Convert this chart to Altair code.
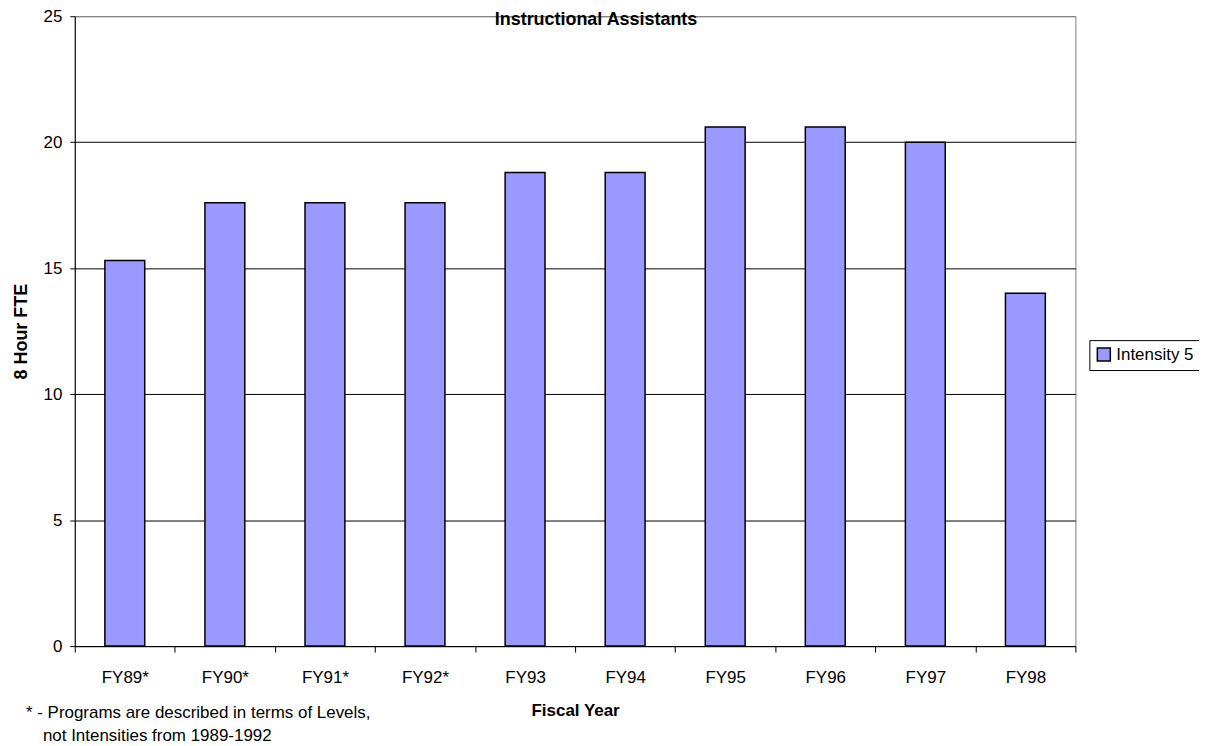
import altair as alt
import pandas as pd

years = ["FY89*", "FY90*", "FY91*", "FY92*", "FY93", "FY94", "FY95", "FY96", "FY97", "FY98"]
values = [15.3, 17.6, 17.6, 17.6, 18.8, 18.8, 20.6, 20.6, 20.0, 14.0]
series = ["Intensity 5"] * len(years)
y_ticks = [0, 5, 10, 15, 20, 25]
title_text = ["Instructional Assistants"]
footnote_1 = ["* - Programs are described in terms of Levels,"]
footnote_2 = ["not Intensities from 1989-1992"]

FONT = "Liberation Sans"

df = pd.DataFrame({"year": years, "fte": values, "series": series})

bars = alt.Chart(df).mark_bar(size=40, stroke="black", strokeWidth=1.5).encode(
    x=alt.X(
        "year:N", sort=years, title="Fiscal Year",
        scale=alt.Scale(paddingInner=0, paddingOuter=0),
        axis=alt.Axis(
            labelAngle=0, tickBand="extent", tickSize=6, labelPadding=31,
            labelBaseline="alphabetic", labelFontSize=17, labelFont=FONT, labelColor="black",
            titleFontSize=17, titleFontWeight="bold", titleFont=FONT, titleColor="black",
            titleY=70, titleBaseline="alphabetic",
            domainColor="black", tickColor="black", grid=False,
        ),
    ),
    y=alt.Y(
        "fte:Q", title="8 Hour FTE",
        scale=alt.Scale(domain=[0, 25], nice=False),
        axis=alt.Axis(
            values=y_ticks, tickSize=5, labelPadding=8,
            labelFontSize=17, labelFont=FONT, labelColor="black",
            domainColor="black", tickColor="black",
            grid=True, gridWidth=1,
            gridColor={"condition": {"test": "datum.value == 25", "value": "#808080"}, "value": "black"},
            titleFontSize=18, titleFontWeight="bold", titleFont=FONT, titleColor="black",
            titleX=-48, titleY=316, titleBaseline="alphabetic", titleAlign="center",
        ),
    ),
    color=alt.Color(
        "series:N",
        scale=alt.Scale(domain=["Intensity 5"], range=["#9999FF"]),
        legend=alt.Legend(
            title=None, orient="none", legendX=1018, legendY=325,
            symbolType="square", symbolSize=169, symbolStrokeColor="black",
            symbolStrokeWidth=1.5, symbolOpacity=1,
            labelFontSize=17, labelFont=FONT, labelColor="black", labelOffset=4,
            strokeColor="black", fillColor="white", padding=6,
        ),
    ),
)

title_layer = alt.Chart(pd.DataFrame({"t": title_text})).mark_text(
    align="center", baseline="alphabetic", fontSize=18, fontWeight="bold", font=FONT, color="black"
).encode(x=alt.value(523), y=alt.value(9), text="t:N")

foot1 = alt.Chart(pd.DataFrame({"t": footnote_1})).mark_text(
    align="left", baseline="alphabetic", fontSize=17, font=FONT, color="black"
).encode(x=alt.value(-49), y=alt.value(704), text="t:N")

foot2 = alt.Chart(pd.DataFrame({"t": footnote_2})).mark_text(
    align="left", baseline="alphabetic", fontSize=17, font=FONT, color="black"
).encode(x=alt.value(-32), y=alt.value(727), text="t:N")

chart = alt.layer(bars, title_layer, foot1, foot2).properties(
    width=1004, height=632,
    padding={"left": 67, "top": 7, "right": 124, "bottom": 100},
    autosize=alt.AutoSizeParams(type="none"),
).configure_view(stroke="#808080", strokeWidth=1)

chart.save("out.html", embed_options={"renderer": "svg", "actions": False})
